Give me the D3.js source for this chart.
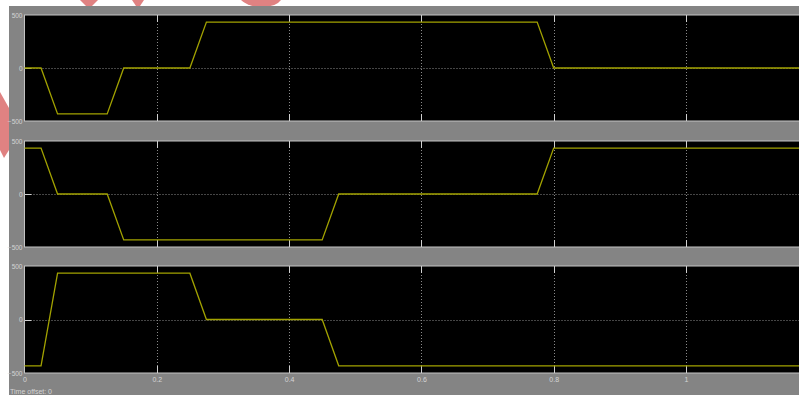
<!DOCTYPE html>
<html>
<head>
<meta charset="utf-8">
<script src="https://cdn.jsdelivr.net/npm/d3@7"></script>
<style>
	body { margin: 0; background: #fff; overflow: hidden; }
	svg { display: block; }
	.tick text { fill: #d4d4d4; font-family: "Liberation Sans", sans-serif; font-size: 7px; }
	.ylab .tick text { font-size: 6.5px; }
</style>
</head>
<body>
<div id="holder" style="width:799px;height:395px"></div>
<script>
// breakpoints (time in s, value in V)
const timeA = [0, 0.025, 0.05, 0.125, 0.15, 0.25, 0.275, 0.775, 0.8, 1.2];
const phaseA = [0, 0, -433, -433, 0, 0, 433, 433, 0, 0];
const timeB = [0, 0.025, 0.05, 0.125, 0.15, 0.45, 0.475, 0.775, 0.8, 1.2];
const phaseB = [433, 433, 0, 0, -433, -433, 0, 0, 433, 433];
const timeC = [0, 0.025, 0.05, 0.25, 0.275, 0.45, 0.475, 1.2];
const phaseC = [-433, -433, 433, 433, 0, 0, -433, -433];
const xTicks = [0, 0.2, 0.4, 0.6, 0.8, 1];
const xTickLabels = ["0", "0.2", "0.4", "0.6", "0.8", "1"];
const yTicks = [-500, 0, 500];

const holder = document.getElementById("holder");
const viewWidth = holder.clientWidth;
const viewHeight = holder.clientHeight;

const svg = d3.select(holder).append("svg")
	.attr("width", viewWidth)
	.attr("height", viewHeight);

// watermark bits in the white margin
const marks = [
	"M80,0 L98,0 L92,6 L86,6 Z",
	"M132,0 L144,0 L140,6 L136,6 Z",
	"M241,0 L281,0 Q276,7 262,7 Q248,7 241,0 Z",
	"M0,92 L9,108 L9,150 L4,158 L0,150 Z"
];
svg.selectAll("path.wm").data(marks).enter().append("path")
	.attr("class", "wm")
	.attr("d", d => d)
	.attr("fill", "#e08282");

// scope window
svg.append("rect")
	.attr("x", 9).attr("y", 6)
	.attr("width", viewWidth).attr("height", viewHeight)
	.attr("fill", "#848484");

const x = d3.scaleLinear().domain([0, 1]).range([24.5, 686]);
const plotRight = viewWidth + 10;

const panels = [
	{ top: 15, bottom: 121, t: timeA, v: phaseA },
	{ top: 141, bottom: 247, t: timeB, v: phaseB },
	{ top: 266, bottom: 373, t: timeC, v: phaseC }
];

panels.forEach(function (p, i) {
	const y = d3.scaleLinear().domain([-500, 500]).range([p.bottom, p.top]);
	const g = svg.append("g");

	g.append("rect")
		.attr("x", x(0)).attr("y", p.top)
		.attr("width", plotRight - x(0)).attr("height", p.bottom - p.top)
		.attr("fill", "#000")
		.attr("stroke", "#c4c4c4")
		.attr("stroke-width", 1);

	// dotted grid
	g.selectAll("line.vg").data(xTicks.slice(1)).enter().append("line")
		.attr("x1", d => Math.round(x(d)) + 0.5).attr("x2", d => Math.round(x(d)) + 0.5)
		.attr("y1", p.top).attr("y2", p.bottom)
		.attr("stroke", "#8a8a8a")
		.attr("stroke-dasharray", "1,2");
	g.append("line")
		.attr("x1", x(0)).attr("x2", plotRight)
		.attr("y1", Math.round(y(0)) + 0.5).attr("y2", Math.round(y(0)) + 0.5)
		.attr("stroke", "#8a8a8a")
		.attr("stroke-dasharray", "1,2");

	// solid tick stubs
	g.selectAll("line.tb").data(xTicks.slice(1)).enter().append("line")
		.attr("x1", d => Math.round(x(d)) + 0.5).attr("x2", d => Math.round(x(d)) + 0.5)
		.attr("y1", p.bottom).attr("y2", p.bottom - 7)
		.attr("stroke", "#d0d0d0");
	g.selectAll("line.tt").data(xTicks.slice(1)).enter().append("line")
		.attr("x1", d => Math.round(x(d)) + 0.5).attr("x2", d => Math.round(x(d)) + 0.5)
		.attr("y1", p.top).attr("y2", p.top + 7)
		.attr("stroke", "#d0d0d0");
	g.append("line")
		.attr("x1", x(0)).attr("x2", x(0) + 7)
		.attr("y1", Math.round(y(0)) + 0.5).attr("y2", Math.round(y(0)) + 0.5)
		.attr("stroke", "#d0d0d0");

	// y labels
	const yAxis = g.append("g")
		.attr("class", "ylab")
		.attr("transform", "translate(" + (x(0) - 1) + ",0)")
		.call(d3.axisLeft(y).tickValues(yTicks).tickSize(0).tickPadding(1).tickFormat(d3.format("d")));
	yAxis.select(".domain").remove();

	// trace
	const pts = p.t.map((t, k) => [t, p.v[k]]);
	g.append("path")
		.datum(pts)
		.attr("fill", "none")
		.attr("stroke", "#a2a200")
		.attr("stroke-width", 1.3)
		.attr("d", d3.line()
			.x(function (d) { return x(d[0]) })
			.y(function (d) { return y(d[1]) })
		);

	if (i === panels.length - 1) {
		const xAxis = g.append("g")
			.attr("transform", "translate(0," + p.bottom + ")")
			.call(d3.axisBottom(x).tickValues(xTicks).tickSize(0).tickPadding(4)
				.tickFormat((d, k) => xTickLabels[k]));
		xAxis.select(".domain").remove();
	}
});

svg.append("text")
	.attr("x", 10)
	.attr("y", 394)
	.style("fill", "#d4d4d4")
	.style("font-family", "Liberation Sans, sans-serif")
	.style("font-size", "7px")
	.text("Time offset:  0");
</script>
</body>
</html>
